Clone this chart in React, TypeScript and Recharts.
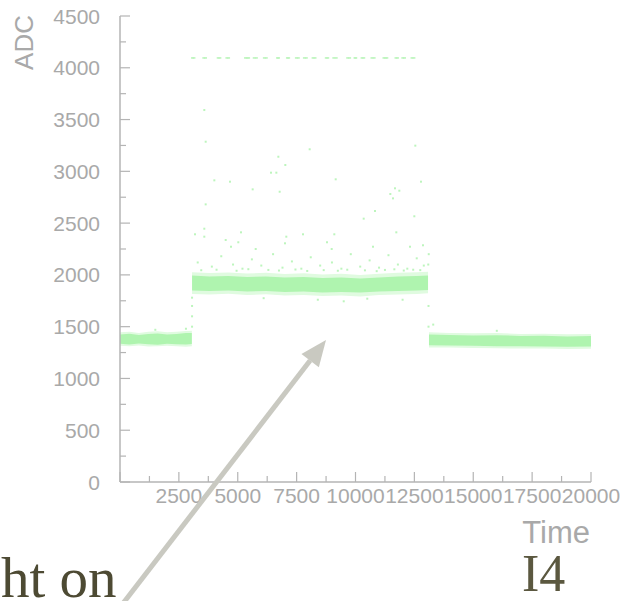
import React from 'react';
import { ComposedChart, Area, Scatter, XAxis, YAxis, Label } from 'recharts';

const FRAME = '#b4b4b4';
const INK = '#a9a9a9';
const CORE = '#aff4af';
const HALO = '#e0fbe0';
const DOT = '#bdf5bd';
const FONT = '"Liberation Sans", Arial, sans-serif';
const SERIF = '"Liberation Serif", "DejaVu Serif", serif';

// axis ticks (minor + major); only the majors get a label
const timeTicks = [0, 1250, 2500, 3750, 5000, 6250, 7500, 8750, 10000, 11250, 12500, 13750, 15000, 16250, 17500, 18750, 20000];
const adcTicks = [0, 250, 500, 750, 1000, 1250, 1500, 1750, 2000, 2250, 2500, 2750, 3000, 3250, 3500, 3750, 4000, 4250, 4500];

// pedestal before the pulse
const beforeTime = [0, 400, 800, 1200, 1600, 2000, 2400, 2800, 3050];
const beforeCoreLow = [1335, 1328, 1338, 1330, 1325, 1334, 1330, 1327, 1332];
const beforeCoreHigh = [1425, 1432, 1420, 1428, 1435, 1424, 1430, 1438, 1440];
const beforeHaloLow = [1315, 1310, 1318, 1308, 1312, 1316, 1310, 1306, 1310];
const beforeHaloHigh = [1445, 1452, 1440, 1450, 1456, 1445, 1452, 1458, 1460];

// signal level during the pulse
const pulseTime = [3060, 3800, 4600, 5400, 6200, 7000, 7800, 8600, 9400, 10200, 11000, 11800, 12600, 13080];
const pulseCoreLow = [1850, 1845, 1850, 1840, 1845, 1835, 1840, 1830, 1835, 1830, 1840, 1845, 1850, 1855];
const pulseCoreHigh = [1995, 1985, 1990, 1980, 1985, 1975, 1980, 1970, 1975, 1965, 1975, 1985, 1990, 1995];
const pulseHaloLow = [1815, 1810, 1818, 1805, 1812, 1800, 1806, 1795, 1800, 1792, 1805, 1810, 1816, 1822];
const pulseHaloHigh = [2025, 2018, 2024, 2014, 2020, 2008, 2016, 2004, 2010, 2000, 2012, 2020, 2026, 2030];

// pedestal after the pulse
const afterTime = [13120, 14000, 15000, 16000, 17000, 18000, 19000, 20000];
const afterCoreLow = [1320, 1318, 1315, 1312, 1310, 1308, 1305, 1308];
const afterCoreHigh = [1425, 1420, 1415, 1418, 1410, 1412, 1405, 1410];
const afterHaloLow = [1300, 1298, 1294, 1292, 1288, 1288, 1284, 1286];
const afterHaloHigh = [1445, 1440, 1436, 1438, 1430, 1432, 1426, 1430];

// saturated samples (ADC overflow)
const satTime = [3080, 3140, 3560, 3630, 4170, 4240, 4540, 4610, 5330, 5400, 5460, 5700, 5790, 6130, 6210, 6690, 6730, 7110, 7160, 7490, 7570, 7830, 7910, 8200, 8280, 8760, 8820, 9080, 9180, 9670, 9750, 9980, 10010, 10280, 10350, 10700, 10790, 11210, 11270, 11330, 11720, 11780, 12010, 12080, 12400, 12480];
const satAdc = satTime.map(() => 4095);

// isolated samples away from the bands
const strayTime = [3580, 3638, 3638, 3580, 3580, 3185, 4006, 4671, 5634, 6724, 6412, 6639, 7020, 6780, 8054, 9159, 12540, 12781, 11677, 11861, 11479, 11592, 10828, 10348, 12498, 11733, 5138, 7771, 9100, 7062, 5023, 4488, 8790, 10743, 4713, 7006, 12866, 12314, 8989, 5762,
  3300, 3900, 4300, 4800, 5200, 5600, 6000, 6500, 6900, 7300, 7700, 8100, 8500, 9000, 9400, 9800, 10200, 10600, 11000, 11400, 11800, 12200, 12600, 12900,
  3450, 4100, 4950, 5450, 6300, 6750, 7450, 7950, 8650, 9250, 9650, 10400, 10900, 11250, 11650, 12050, 12450, 12750,
  8400, 9500, 10500, 6100, 12000, 3060, 3060, 3060, 3060, 13090, 13100, 13100, 13110, 1500, 2800, 13300, 16000];
const strayAdc = [3592, 3286, 2681, 2446, 2369, 2392, 2913, 2900, 2826, 3141, 2987, 2987, 3061, 2803, 3213, 2923, 3248, 2900, 2836, 2813, 2781, 2739, 2617, 2543, 2566, 2411, 2411, 2392, 2392, 2369, 2315, 2337, 2315, 2272, 2272, 2305, 2286, 2272, 2250, 2250,
  2120, 2080, 2180, 2100, 2060, 2150, 2090, 2200, 2070, 2130, 2060, 2170, 2090, 2120, 2060, 2200, 2080, 2140, 2070, 2190, 2100, 2060, 2160, 2090,
  2045, 2050, 2040, 2055, 2048, 2042, 2052, 2038, 2046, 2040, 2050, 2044, 2036, 2048, 2054, 2042, 2050, 2046,
  1760, 1745, 1770, 1775, 1760, 1500, 1600, 1700, 1780, 2100, 1700, 1500, 2200, 1470, 1480, 1520, 1460];

const segments = [
  { key: 'before', time: beforeTime, coreLow: beforeCoreLow, coreHigh: beforeCoreHigh, haloLow: beforeHaloLow, haloHigh: beforeHaloHigh },
  { key: 'pulse', time: pulseTime, coreLow: pulseCoreLow, coreHigh: pulseCoreHigh, haloLow: pulseHaloLow, haloHigh: pulseHaloHigh },
  { key: 'after', time: afterTime, coreLow: afterCoreLow, coreHigh: afterCoreHigh, haloLow: afterHaloLow, haloHigh: afterHaloHigh },
];

const bandRows = segments.flatMap((s) =>
  s.time.map((t, i) => ({
    t,
    [`${s.key}Core`]: [s.coreLow[i], s.coreHigh[i]],
    [`${s.key}Halo`]: [s.haloLow[i], s.haloHigh[i]],
  }))
);

const satPoints = satTime.map((t, i) => ({ t, adc: satAdc[i] }));
const strayPoints = strayTime.map((t, i) => ({ t, adc: strayAdc[i] }));

const tickLen = (major: boolean) => (major ? 10 : 6);

function LeftTick({ x, y, payload }: any) {
  const major = payload.value % 500 === 0;
  return (
    <g>
      <line x1={x} x2={x + tickLen(major)} y1={y} y2={y} stroke={FRAME} strokeWidth={1.2} />
      {major && (
        <text x={x - 20} y={y} textAnchor="end" dominantBaseline="central" fill={INK} fontSize={21} fontFamily={FONT}>
          {payload.value}
        </text>
      )}
    </g>
  );
}

function RightTick({ x, y, payload }: any) {
  const major = payload.value % 500 === 0;
  return <line x1={x} x2={x - tickLen(major)} y1={y} y2={y} stroke={FRAME} strokeWidth={1.2} />;
}

function BottomTick({ x, y, payload }: any) {
  const major = payload.value % 2500 === 0;
  return (
    <g>
      <line x1={x} x2={x} y1={y} y2={y - tickLen(major)} stroke={FRAME} strokeWidth={1.2} />
      {major && payload.value !== 0 && (
        <text x={x} y={y + 21} textAnchor="middle" fill={INK} fontSize={21} fontFamily={FONT}>
          {payload.value}
        </text>
      )}
    </g>
  );
}

const dotShape = (p: any) => <rect x={p.cx - 1} y={p.cy - 1} width={2} height={2} fill={DOT} />;
const satShape = (p: any) => <rect x={p.cx - 1.5} y={p.cy - 0.8} width={3} height={1.6} fill={DOT} />;

// slide arrow pointing at the pulse plateau
const tip = { x: 326, y: 340 };
const tail = { x: 121, y: 606 };

function SlideOverlay() {
  const dx = tip.x - tail.x;
  const dy = tip.y - tail.y;
  const len = Math.hypot(dx, dy);
  const ux = dx / len;
  const uy = dy / len;
  const bx = tip.x - 26 * ux;
  const by = tip.y - 26 * uy;
  const nx = -uy;
  const ny = ux;
  return (
    <svg width={624} height={601} style={{ position: 'absolute', left: 0, top: 0 }}>
      <line x1={tail.x} y1={tail.y} x2={bx} y2={by} stroke="#c9c9c1" strokeWidth={5} />
      <polygon
        points={`${tip.x},${tip.y} ${bx + 11 * nx},${by + 11 * ny} ${bx - 11 * nx},${by - 11 * ny}`}
        fill="#c9c9c1"
      />
      <text x={1} y={597} fill="#4d4a33" fontSize={57} fontFamily={SERIF}>
        ht on
      </text>
      <text x={522} y={591} fill="#5b5840" fontSize={52} fontFamily={SERIF}>
        I4
      </text>
    </svg>
  );
}

export default function App() {
  const axisLine = { stroke: FRAME, strokeWidth: 1.5 };
  return (
    <div style={{ position: 'fixed', left: 0, top: 0, width: 624, height: 601, background: '#fff', overflow: 'hidden' }}>
      <ComposedChart width={624} height={601} data={bandRows} margin={{ top: 16, right: 33, bottom: 89, left: 0 }}>
        <XAxis
          xAxisId="b"
          dataKey="t"
          type="number"
          domain={[0, 20000]}
          ticks={timeTicks}
          interval={0}
          height={30}
          tickSize={0}
          tickMargin={0}
          tickLine={false}
          axisLine={axisLine}
          tick={<BottomTick />}
          allowDataOverflow
        >
          <Label
            content={({ viewBox }: any) => (
              <text x={viewBox.x + viewBox.width - 1} y={viewBox.y + 61} textAnchor="end" fill={INK} fontSize={31} fontFamily={FONT}>
                Time
              </text>
            )}
          />
        </XAxis>
        <XAxis
          xAxisId="t"
          orientation="top"
          dataKey="t"
          type="number"
          domain={[0, 20000]}
          height={0}
          tick={false}
          tickLine={false}
          axisLine={axisLine}
          allowDataOverflow
        />
        <YAxis
          yAxisId="l"
          type="number"
          domain={[0, 4500]}
          ticks={adcTicks}
          interval={0}
          width={120}
          tickSize={0}
          tickMargin={0}
          tickLine={false}
          axisLine={axisLine}
          tick={<LeftTick />}
          allowDataOverflow
        >
          <Label
            content={({ viewBox }: any) => (
              <text
                transform={`translate(${viewBox.x + 33}, ${viewBox.y - 1}) rotate(-90)`}
                textAnchor="end"
                fill={INK}
                fontSize={26}
                fontFamily={FONT}
              >
                ADC
              </text>
            )}
          />
        </YAxis>
        <YAxis
          yAxisId="r"
          orientation="right"
          type="number"
          domain={[0, 4500]}
          ticks={adcTicks}
          interval={0}
          width={0}
          tickSize={0}
          tickMargin={0}
          tickLine={false}
          axisLine={axisLine}
          tick={<RightTick />}
          allowDataOverflow
        />
        {segments.map((s) => (
          <Area
            key={`${s.key}Halo`}
            xAxisId="b"
            yAxisId="l"
            type="linear"
            dataKey={`${s.key}Halo`}
            fill={HALO}
            fillOpacity={1}
            stroke="none"
            dot={false}
            activeDot={false}
            isAnimationActive={false}
          />
        ))}
        {segments.map((s) => (
          <Area
            key={`${s.key}Core`}
            xAxisId="b"
            yAxisId="l"
            type="linear"
            dataKey={`${s.key}Core`}
            fill={CORE}
            fillOpacity={1}
            stroke="none"
            dot={false}
            activeDot={false}
            isAnimationActive={false}
          />
        ))}
        <Scatter xAxisId="b" yAxisId="l" data={strayPoints} dataKey="adc" shape={dotShape} isAnimationActive={false} />
        <Scatter xAxisId="b" yAxisId="l" data={satPoints} dataKey="adc" shape={satShape} isAnimationActive={false} />
      </ComposedChart>
      <SlideOverlay />
    </div>
  );
}
